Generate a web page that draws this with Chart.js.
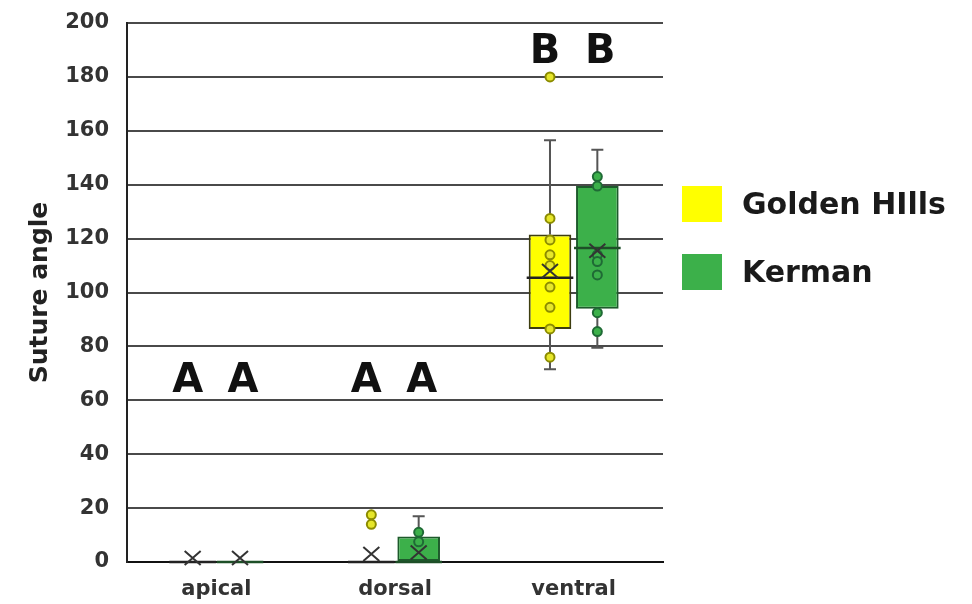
<!DOCTYPE html>
<html>
<head>
<meta charset="utf-8">
<script src="https://cdn.jsdelivr.net/npm/chart.js@4"></script>
<style>
  html, body { margin: 0; background: #fff; }
  #wrap { width: 972px; height: 604px; }
</style>
</head>
<body>
<div id="wrap"><canvas id="chart"></canvas></div>
<script>
/* suture angle box plots — Golden HIlls vs Kerman */

const categories = ['apical', 'dorsal', 'ventral'];
const seriesNames = ['Golden HIlls', 'Kerman'];
const yTicks = [0, 20, 40, 60, 80, 100, 120, 140, 160, 180, 200];

// Golden HIlls
const ghMin    = [0, 0, 71.5];
const ghQ1     = [0, 0, 86.5];
const ghMedian = [0, 0, 105.5];
const ghQ3     = [0, 0, 121.5];
const ghMax    = [0, 0, 156.5];
const ghMean   = [1.5, 3, 108];
const ghPoints = [[], [17.5, 14], [180, 127.5, 119.5, 114, 110, 102, 94.5, 86.5, 76]];

// Kerman
const kmMin    = [0, 0, 79.5];
const kmQ1     = [0, 0, 94];
const kmMedian = [0, 0, 116.5];
const kmQ3     = [0, 9.5, 139.5];
const kmMax    = [0, 17, 153];
const kmMean   = [1.5, 3.5, 115.5];
const kmPoints = [[], [11, 7.5], [143, 139.5, 114, 111.5, 106.5, 92.5, 85.5]];

// significance letters
const letters = [['A', 'A'], ['A', 'A'], ['B', 'B']];
const letterY = [67, 67, 189];

const boxFill   = ['#ffff00', '#3cb04a'];
const boxLine   = ['#3d3d10', '#1d5a2b'];
const ptFill    = ['#e6e62a', '#3cb04a'];
const ptLine    = ['#8c8c00', '#1f6a35'];
const medLine   = ['#222', '#1d4f27'];

const stats = [
  { min: ghMin, q1: ghQ1, med: ghMedian, q3: ghQ3, max: ghMax, mean: ghMean, pts: ghPoints },
  { min: kmMin, q1: kmQ1, med: kmMedian, q3: kmQ3, max: kmMax, mean: kmMean, pts: kmPoints },
];

const FONT = "'DejaVu Sans', 'Liberation Sans', Arial, sans-serif";

const boxPlugin = {
  id: 'boxExtras',
  beforeDatasetsDraw(chart) {
    const ctx = chart.ctx, y = chart.scales.y;
    ctx.save();
    stats.forEach((s, d) => {
      chart.getDatasetMeta(d).data.forEach((bar, j) => {
        const x = bar.x;
        ctx.strokeStyle = '#555';
        ctx.lineWidth = 2;
        ctx.beginPath();
        if (s.max[j] > s.q3[j]) {
          ctx.moveTo(x, y.getPixelForValue(s.q3[j]));
          ctx.lineTo(x, y.getPixelForValue(s.max[j]));
          ctx.moveTo(x - 6, y.getPixelForValue(s.max[j]));
          ctx.lineTo(x + 6, y.getPixelForValue(s.max[j]));
        }
        if (s.min[j] < s.q1[j]) {
          ctx.moveTo(x, y.getPixelForValue(s.q1[j]));
          ctx.lineTo(x, y.getPixelForValue(s.min[j]));
          ctx.moveTo(x - 6, y.getPixelForValue(s.min[j]));
          ctx.lineTo(x + 6, y.getPixelForValue(s.min[j]));
        }
        ctx.stroke();
      });
    });
    ctx.restore();
  },
  afterDatasetsDraw(chart) {
    const ctx = chart.ctx, y = chart.scales.y;
    ctx.save();
    stats.forEach((s, d) => {
      chart.getDatasetMeta(d).data.forEach((bar, j) => {
        const x = bar.x, hw = bar.width / 2;
        // median
        const ym = y.getPixelForValue(s.med[j]);
        ctx.strokeStyle = medLine[d];
        ctx.lineWidth = 2.5;
        ctx.beginPath();
        ctx.moveTo(x - hw - 2, ym);
        ctx.lineTo(x + hw + 2, ym);
        ctx.stroke();
        // points
        s.pts[j].forEach(v => {
          ctx.beginPath();
          ctx.arc(x, y.getPixelForValue(v), 4.5, 0, Math.PI * 2);
          ctx.fillStyle = ptFill[d];
          ctx.fill();
          ctx.lineWidth = 2;
          ctx.strokeStyle = ptLine[d];
          ctx.stroke();
        });
        // mean X
        const yx = y.getPixelForValue(s.mean[j]);
        ctx.strokeStyle = '#333';
        ctx.lineWidth = 2;
        ctx.beginPath();
        ctx.moveTo(x - 8, yx - 7); ctx.lineTo(x + 8, yx + 7);
        ctx.moveTo(x + 8, yx - 7); ctx.lineTo(x - 8, yx + 7);
        ctx.stroke();
        // letters
        ctx.fillStyle = '#111';
        ctx.font = 'bold 40px ' + FONT;
        ctx.textAlign = 'center';
        ctx.textBaseline = 'middle';
        ctx.fillText(letters[j][d], x + (d === 0 ? -5 : 3), y.getPixelForValue(letterY[j]));
      });
    });
    ctx.restore();
  },
  afterDraw(chart) {
    const ctx = chart.ctx;
    ctx.save();
    seriesNames.forEach((name, i) => {
      const top = 186 + i * 68;
      ctx.fillStyle = boxFill[i];
      ctx.fillRect(682, top, 40, 36);
      ctx.fillStyle = '#1a1a1a';
      ctx.font = 'bold 30px ' + FONT;
      ctx.textAlign = 'left';
      ctx.textBaseline = 'middle';
      ctx.fillText(name, 742, top + 20);
    });
    ctx.restore();
  },
};

new Chart(document.getElementById('chart'), {
  type: 'bar',
  data: {
    labels: categories,
    datasets: stats.map((s, d) => ({
      label: seriesNames[d],
      data: categories.map((c, j) => [s.q1[j], s.q3[j]]),
      backgroundColor: boxFill[d],
      borderColor: boxLine[d],
      borderWidth: 2,
      borderSkipped: false,
      categoryPercentage: 0.53,
      barPercentage: 0.9,
    })),
  },
  options: {
    responsive: true,
    maintainAspectRatio: false,
    animation: false,
    layout: { padding: { left: 25, right: 309, top: 4, bottom: 0 } },
    plugins: { legend: { display: false }, tooltip: { enabled: false } },
    scales: {
      x: {
        afterFit: s => { s.height = 42; },
        grid: { display: false },
        border: { color: '#111', width: 2 },
        ticks: { color: '#333', padding: 7, font: { family: FONT, size: 21, weight: 'bold' } },
      },
      y: {
        min: 0,
        max: 200,
        afterFit: s => { s.width = 102; s.paddingTop = 23; },
        afterBuildTicks: s => { s.ticks = yTicks.map(v => ({ value: v })); },
        grid: { color: '#4a4a4a', lineWidth: 2, drawTicks: false },
        border: { color: '#222', width: 2 },
        ticks: { color: '#333', padding: 18, font: { family: FONT, size: 21, weight: 'bold' } },
        title: {
          display: true,
          text: 'Suture angle',
          color: '#222',
          padding: { top: 0, bottom: 0 },
          font: { family: FONT, size: 25, weight: 'bold' },
        },
      },
    },
  },
  plugins: [boxPlugin],
});
</script>
</body>
</html>
